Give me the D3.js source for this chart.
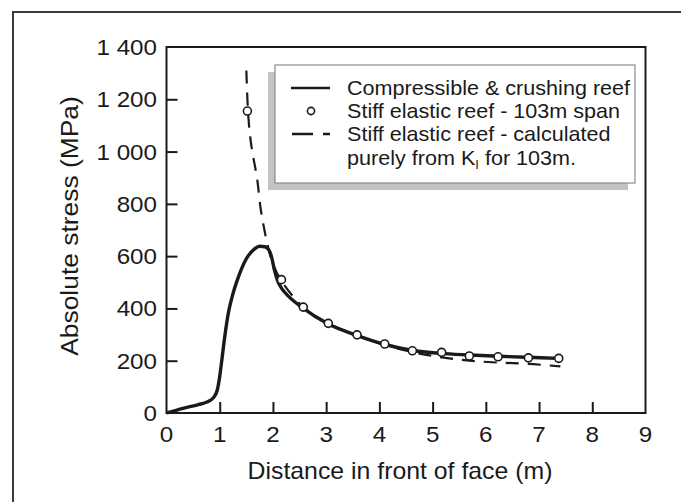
<!DOCTYPE html>
<html>
<head>
<meta charset="utf-8">
<script src="https://cdn.jsdelivr.net/npm/d3@7"></script>
<style>
  html, body { margin: 0; padding: 0; background: #fff; }
  svg text { font-family: "Liberation Sans", Arial, Helvetica, sans-serif; fill: #1a1a1a; }
</style>
</head>
<body>
<svg id="chart" width="681" height="502"></svg>
<script>
// Distance in front of face (m) vs absolute stress (MPa)
const crushingX = [0, 0.31, 0.6, 0.76, 0.88, 0.95, 1.0, 1.04, 1.1, 1.16, 1.24, 1.35, 1.5, 1.65, 1.75, 1.85, 1.92, 1.97, 2.03, 2.1, 2.16, 2.3, 2.56, 3.03, 3.56, 4.09, 4.6, 5.15, 5.7, 6.25, 6.8, 7.37];
const crushingY = [0, 18, 32, 42, 58, 85, 140, 203, 300, 380, 450, 520, 590, 627, 638, 636, 625, 600, 545, 500, 478, 445, 402, 341, 298, 263, 240, 228, 222, 217, 213, 209];

const stiffX = [1.52, 2.16, 2.57, 3.04, 3.58, 4.10, 4.62, 5.17, 5.69, 6.23, 6.80, 7.37];
const stiffY = [1155, 510, 405, 343, 299, 264, 238, 232, 218, 215, 211, 209];

const kiX = [1.50, 1.53, 1.57, 1.62, 1.70, 1.77, 1.84, 1.92, 2.0, 2.16, 2.57, 3.04, 3.58, 4.1, 4.62, 5.17, 5.69, 6.23, 6.8, 7.4];
const kiY = [1310, 1160, 1060, 990, 900, 780, 700, 625, 570, 505, 405, 343, 297, 260, 233, 213, 200, 193, 188, 178];

const xTicks = [0, 1, 2, 3, 4, 5, 6, 7, 8, 9];
const yTicks = [0, 200, 400, 600, 800, 1000, 1200, 1400];
const yTickLabels = ["0", "200", "400", "600", "800", "1 000", "1 200", "1 400"];

const legendLabels = [
  "Compressible & crushing reef",
  "Stiff elastic reef - 103m span",
  "Stiff elastic reef - calculated"
];

const svg = d3.select("#chart");
const ink = "#1a1a1a";

// text placed at (x, y) and widened slightly on the horizontal axis
function label(parent, x, y, str, size, sx, anchor, rotate) {
  const t = parent.append("text")
    .attr("transform", `translate(${x},${y})${rotate ? ` rotate(${rotate})` : ""} scale(${sx},1)`)
    .attr("font-size", size)
    .attr("text-anchor", anchor || "start");
  if (str !== null) t.text(str);
  return t;
}

// outer figure frame
svg.append("path")
  .attr("d", "M13,502 V12 H681")
  .attr("fill", "none").attr("stroke", "#3a3a3a").attr("stroke-width", 2);

const plot = { left: 166.5, right: 645.5, top: 47, bottom: 413 };
const x = d3.scaleLinear().domain([0, 9]).range([plot.left, plot.right]);
const y = d3.scaleLinear().domain([0, 1400]).range([plot.bottom, plot.top]);

// plot box
svg.append("rect")
  .attr("x", plot.left).attr("y", plot.top)
  .attr("width", plot.right - plot.left).attr("height", plot.bottom - plot.top)
  .attr("fill", "none").attr("stroke", ink).attr("stroke-width", 2);

// inward ticks
const xAxis = d3.axisTop(x).tickValues(xTicks.slice(1, -1)).tickSize(11).tickFormat("");
svg.append("g").attr("transform", `translate(0,${plot.bottom})`).call(xAxis)
  .call(g => g.select(".domain").remove())
  .call(g => g.selectAll("line").attr("stroke", ink).attr("stroke-width", 2));
const yAxis = d3.axisRight(y).tickValues(yTicks.slice(1, -1)).tickSize(11).tickFormat("");
svg.append("g").attr("transform", `translate(${plot.left},0)`).call(yAxis)
  .call(g => g.select(".domain").remove())
  .call(g => g.selectAll("line").attr("stroke", ink).attr("stroke-width", 2));

// tick labels
const xl = svg.append("g");
xTicks.forEach(d => label(xl, x(d), 442, String(d), 22, 1.1, "middle"));
const yl = svg.append("g");
yTicks.forEach((d, i) => label(yl, 157, y(d) + 8, yTickLabels[i], 22, 1.1, "end"));

// axis titles
label(svg, 400, 479, "Distance in front of face (m)", 23, 1.08, "middle");
label(svg, 78, 226, "Absolute stress (MPa)", 24, 1.1, "middle", -90);

// calculated from K_I (dashed)
svg.append("path")
  .datum(kiX.map((v, i) => [v, kiY[i]]))
  .attr("d", d3.line().x(d => x(d[0])).y(d => y(d[1])).curve(d3.curveCatmullRom))
  .attr("fill", "none").attr("stroke", ink).attr("stroke-width", 2.2)
  .attr("stroke-dasharray", "13,9");

// compressible & crushing reef (solid)
svg.append("path")
  .datum(crushingX.map((v, i) => [v, crushingY[i]]))
  .attr("d", d3.line().x(d => x(d[0])).y(d => y(d[1])).curve(d3.curveMonotoneX))
  .attr("fill", "none").attr("stroke", ink).attr("stroke-width", 3.4)
  .attr("stroke-linejoin", "round");

// stiff elastic reef (circles)
svg.append("g").selectAll("circle").data(stiffX.map((v, i) => [v, stiffY[i]])).join("circle")
  .attr("cx", d => x(d[0])).attr("cy", d => y(d[1])).attr("r", 4)
  .attr("fill", "#fff").attr("stroke", ink).attr("stroke-width", 1.6);

// legend
const lg = svg.append("g");
lg.append("rect").attr("x", 268).attr("y", 72).attr("width", 360).attr("height", 118).attr("fill", "#c4c4c4");
lg.append("rect").attr("x", 275).attr("y", 65).attr("width", 360).attr("height", 118)
  .attr("fill", "#fff").attr("stroke", "#8a8a8a").attr("stroke-width", 1.2);

const rowY = [88, 111, 134, 158];
lg.append("line").attr("x1", 291).attr("x2", 330).attr("y1", rowY[0]).attr("y2", rowY[0])
  .attr("stroke", ink).attr("stroke-width", 2.5);
lg.append("circle").attr("cx", 311).attr("cy", rowY[1]).attr("r", 3.6)
  .attr("fill", "#fff").attr("stroke", ink).attr("stroke-width", 1.6);
lg.append("line").attr("x1", 292).attr("x2", 330).attr("y1", rowY[2]).attr("y2", rowY[2])
  .attr("stroke", ink).attr("stroke-width", 2.5).attr("stroke-dasharray", "21,10");

legendLabels.forEach((d, i) => label(lg, 347, rowY[i] + 7, d, 20, 1.08, "start"));
const last = label(lg, 347, rowY[3] + 7, null, 20, 1.08, "start");
last.append("tspan").text("purely from K");
last.append("tspan").attr("font-size", 12).attr("dy", 4).text("I");
last.append("tspan").attr("dy", -4).text(" for 103m.");
</script>
</body>
</html>
